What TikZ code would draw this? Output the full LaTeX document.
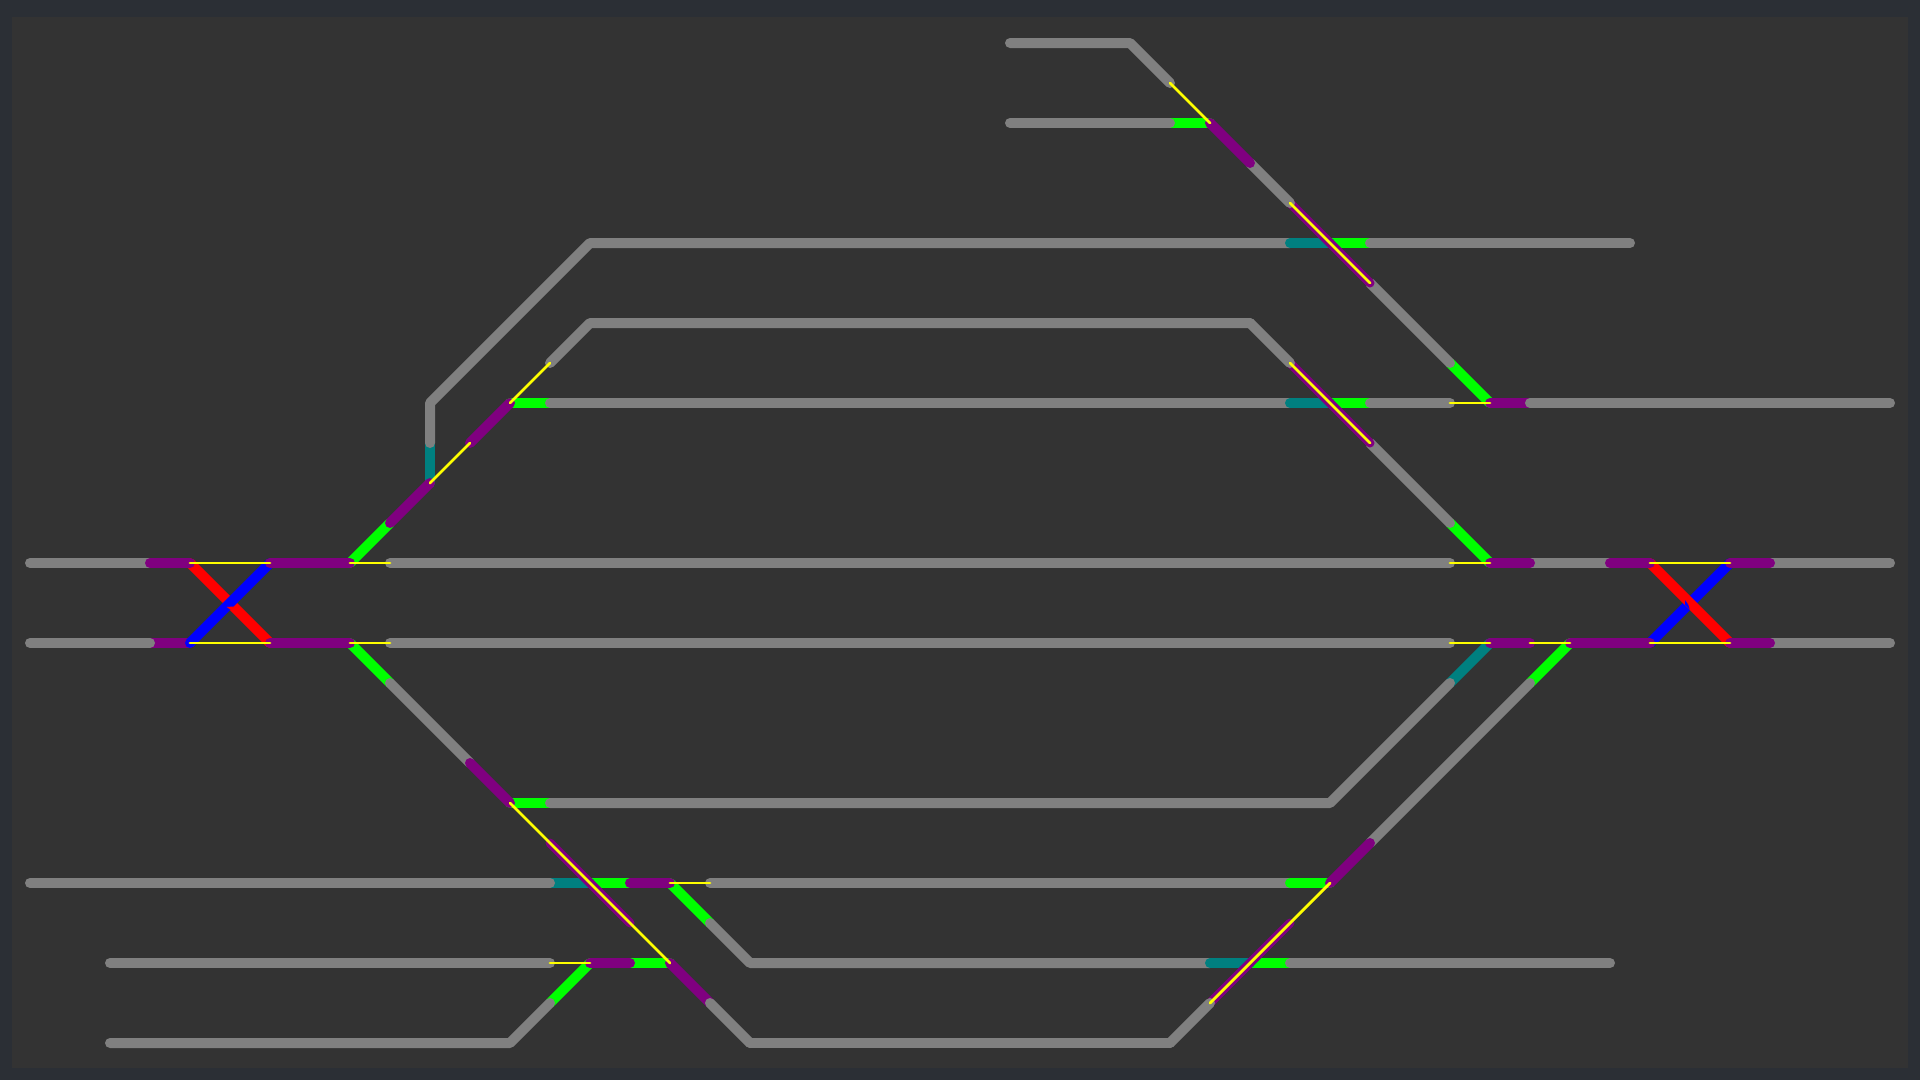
\documentclass[tikz,border=0pt]{standalone}
\definecolor{outerbg}{HTML}{2B2F35}
\definecolor{innerbg}{HTML}{333333}
\definecolor{trackgray}{HTML}{808080}
\definecolor{trackpurple}{HTML}{800080}
\definecolor{tracklime}{HTML}{00FF00}
\definecolor{trackteal}{HTML}{008080}
\definecolor{trackred}{HTML}{FF0000}
\definecolor{trackblue}{HTML}{0000FF}
\definecolor{trackyellow}{HTML}{FFFF00}
\tikzset{
  rail/.style={line width=10pt,line cap=round,line join=round},
  gy/.style={rail,draw=trackgray},
  pu/.style={rail,draw=trackpurple},
  thinpu/.style={rail,draw=trackpurple,line width=9pt},
  li/.style={rail,draw=tracklime},
  te/.style={rail,draw=trackteal},
  re/.style={rail,draw=trackred},
  bl/.style={rail,draw=trackblue},
  ye/.style={draw=trackyellow,line width=2.8pt,line cap=round}
}
\begin{document}
\begin{tikzpicture}[x=1pt,y=-1pt]
\useasboundingbox (0,0) rectangle (1920,1080);
\fill[outerbg] (0,0) rectangle (1920,1080);
\fill[innerbg] (12,17) rectangle (1908,1068);
% colours that lie under the grey
\draw[li] (1170,123) -- (1210,123);
\draw[li] (1330,243) -- (1370,243);
\draw[li] (510,403) -- (550,403);
\draw[li] (1330,403) -- (1370,403);
\draw[li] (1450,363) -- (1490,403);
\draw[li] (1450,523) -- (1490,563);
\draw[li] (350,563) -- (390,523);
\draw[li] (350,643) -- (390,683);
\draw[li] (510,803) -- (550,803);
\draw[li] (590,883) -- (630,883);
\draw[li] (670,883) -- (710,923);
\draw[li] (1250,963) -- (1290,963);
\draw[li] (630,963) -- (670,963);
\draw[li] (550,1003) -- (590,963);
\draw[li] (1530,683) -- (1570,643);
\draw[te] (430,443) -- (430,483);
\draw[te] (1450,683) -- (1490,643);
\draw[te] (550,883) -- (590,883);
\draw[pu] (150,643) -- (190,643);
\draw[pu] (1490,403) -- (1530,403);
\draw[pu] (670,963) -- (710,1003);
% grey track
\draw[gy] (1010,43) -- (1130,43) -- (1170,83);
\draw[gy] (1010,123) -- (1170,123);
\draw[gy] (430,443) -- (430,403) -- (590,243) -- (1290,243);
\draw[gy] (1370,243) -- (1630,243);
\draw[gy] (550,363) -- (590,323) -- (1250,323);
\draw[gy] (550,403) -- (1290,403);
\draw[gy] (1370,403) -- (1450,403);
\draw[gy] (1530,403) -- (1890,403);
\draw[gy] (30,563) -- (150,563);
\draw[gy] (390,563) -- (1450,563);
\draw[gy] (1530,563) -- (1610,563);
\draw[gy] (1770,563) -- (1890,563);
\draw[gy] (30,643) -- (150,643);
\draw[gy] (390,643) -- (1450,643);
\draw[gy] (1770,643) -- (1890,643);
\draw[gy] (390,683) -- (470,763);
\draw[gy] (550,803) -- (1330,803) -- (1450,683);
\draw[gy] (1530,683) -- (1370,843);
\draw[gy] (30,883) -- (550,883);
\draw[gy] (710,883) -- (1290,883);
\draw[gy] (110,963) -- (550,963);
\draw[gy] (710,923) -- (750,963) -- (1210,963);
\draw[gy] (1290,963) -- (1610,963);
\draw[gy] (110,1043) -- (510,1043) -- (550,1003);
\draw[gy] (750,1043) -- (1170,1043);
\draw[gy] (1370,283) -- (1450,363);
\draw[gy] (1370,443) -- (1450,523);
% colours that lie over the grey
\draw[te] (1290,243) -- (1330,243);
\draw[te] (1290,403) -- (1330,403);
\draw[te] (1210,963) -- (1250,963);
\draw[li] (1290,883) -- (1330,883);
\draw[thinpu] (1290,203) -- (1370,283);
\draw[thinpu] (1290,363) -- (1370,443);
\draw[thinpu] (1210,1003) -- (1290,923);
\draw[thinpu] (550,843) -- (630,923);
% grey that ends on top of the purple
\draw[gy] (1250,163) -- (1290,203);
\draw[gy] (1250,323) -- (1290,363);
\draw[gy] (1170,1043) -- (1210,1003);
% crossings
\draw[re] (190,563) -- (270,643);
\draw[bl] (190,643) -- (270,563);
\fill[trackred] (226.7,607) -- (233.7,606.5) -- (231,610) -- cycle;
\draw[bl] (1650,643) -- (1730,563);
\draw[re] (1650,563) -- (1730,643);
\fill[trackblue] (1685,600) -- (1685,605) -- (1689.7,609.7) -- (1688.3,604.7) -- cycle;
% purple over the rest
\draw[pu] (150,563) -- (190,563);
\draw[pu] (270,563) -- (350,563);
\draw[pu] (270,643) -- (350,643);
\draw[pu] (1210,123) -- (1250,163);
\draw[pu] (470,443) -- (510,403);
\draw[pu] (390,523) -- (430,483);
\draw[pu] (470,763) -- (510,803);
\draw[pu] (630,883) -- (670,883);
\draw[pu] (590,963) -- (630,963);
\draw[pu] (1330,883) -- (1370,843);
\draw[pu] (1490,563) -- (1530,563);
\draw[pu] (1610,563) -- (1650,563);
\draw[pu] (1730,563) -- (1770,563);
\draw[pu] (1490,643) -- (1530,643);
\draw[pu] (1570,643) -- (1650,643);
\draw[pu] (1730,643) -- (1770,643);
\draw[gy] (710,1003) -- (750,1043);
% yellow links
\draw[ye] (1170,83) -- (1210,123);
\draw[ye] (1290,203) -- (1370,283);
\draw[ye] (1290,363) -- (1370,443);
\draw[ye] (1450,403) -- (1490,403);
\draw[ye] (510,403) -- (550,363);
\draw[ye] (430,483) -- (470,443);
\draw[ye] (190,563) -- (270,563);
\draw[ye] (350,563) -- (390,563);
\draw[ye] (1450,563) -- (1490,563);
\draw[ye] (1650,563) -- (1730,563);
\draw[ye] (190,643) -- (270,643);
\draw[ye] (350,643) -- (390,643);
\draw[ye] (1450,643) -- (1490,643);
\draw[ye] (1530,643) -- (1570,643);
\draw[ye] (1650,643) -- (1730,643);
\draw[ye] (510,803) -- (670,963);
\draw[ye] (670,883) -- (710,883);
\draw[ye] (550,963) -- (590,963);
\draw[ye] (1330,883) -- (1210,1003);
\end{tikzpicture}
\end{document}
